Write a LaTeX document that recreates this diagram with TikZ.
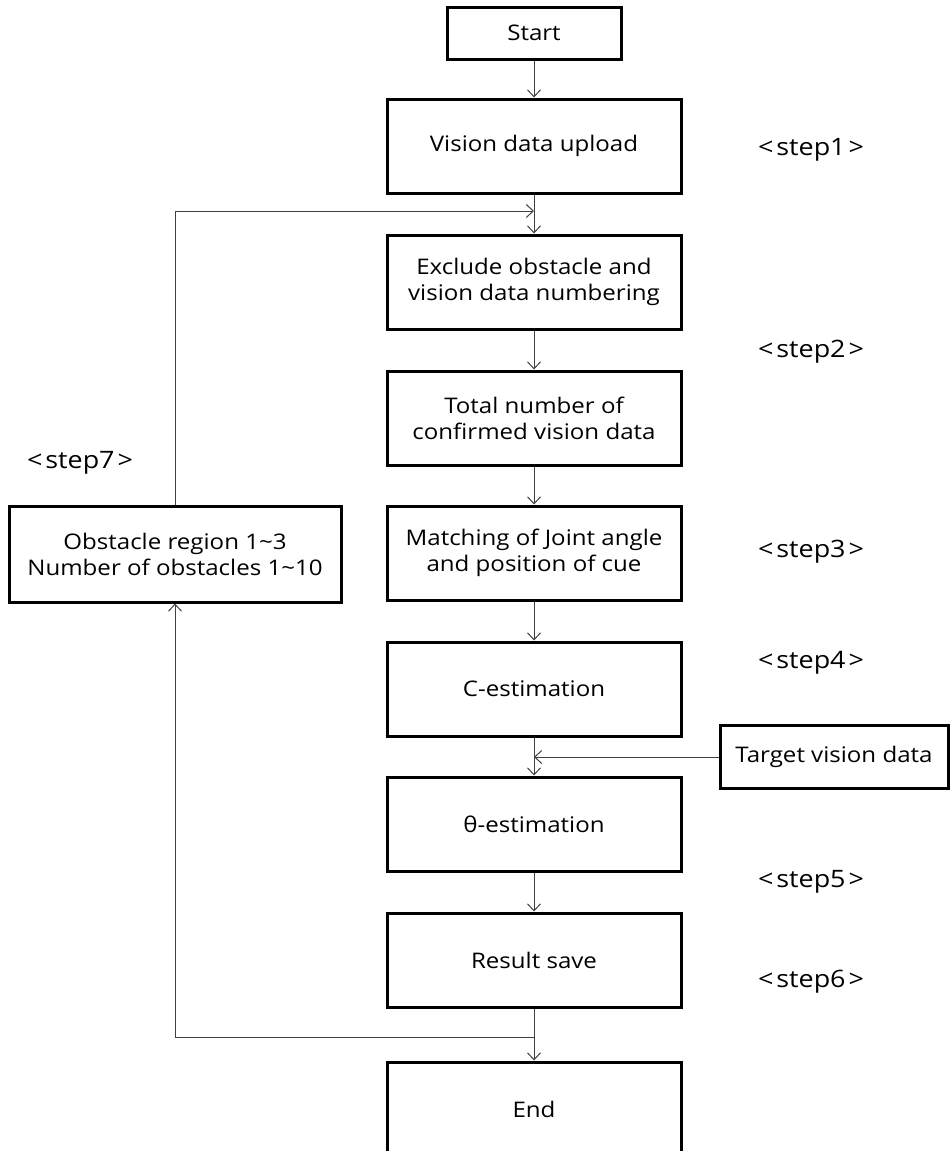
\documentclass[tikz,border=0pt]{standalone}
\usepackage{fontspec}
\setmainfont[FakeStretch=1.12]{Open Sans}
\usetikzlibrary{arrows.meta}
\begin{document}
\begin{tikzpicture}[x=1pt,y=-1pt,
  font=\fontsize{21.5}{26}\selectfont,
  box/.style={draw=black,line width=3pt,fill=white,align=center,inner sep=0pt},
  flowbox/.style={box,minimum width=294pt,minimum height=94pt},
  arr/.style={draw=black!75,line width=1pt,-{Straight Barb[length=7pt,width=13pt]}},
  lbl/.style={inner sep=0pt,font=\fontsize{24}{28}\selectfont}]
\useasboundingbox (0,0) rectangle (950,1151);

% main column of steps
\node[box,minimum width=174pt,minimum height=52pt] (start) at (534,33) {Start};
\node[flowbox] (vision) at (534,146) {Vision data upload};
\node[flowbox] (exclude) at (534,282) {Exclude obstacle and\\vision data numbering};
\node[flowbox] (total) at (534,418) {Total number of\\confirmed vision data};
\node[flowbox] (match) at (534,553) {Matching of Joint angle\\and position of cue};
\node[flowbox] (cest) at (534,689) {C-estimation};
\node[flowbox] (theta) at (534,824) {θ-estimation};
\node[flowbox] (result) at (534,960) {Result save};
\node[flowbox] (end) at (534,1109) {End};

% side boxes
\node[box,minimum width=332pt,minimum height=96pt] (obs) at (175,554)
  {Obstacle region 1\textasciitilde3\\Number of obstacles 1\textasciitilde10};
\node[box,minimum width=228pt,minimum height=63pt] (target) at (834,757) {Target vision data};

% step labels
\newcommand{\steplabel}[1]{<\hspace{3pt}step#1\hspace{3pt}>}
\node[lbl] (s1) at (811,150) {\steplabel{1}};
\node[lbl] (s2) at (811,352) {\steplabel{2}};
\node[lbl] (s3) at (811,552) {\steplabel{3}};
\node[lbl] (s4) at (811,663) {\steplabel{4}};
\node[lbl] (s5) at (811,882) {\steplabel{5}};
\node[lbl] (s6) at (811,982) {\steplabel{6}};
\node[lbl] (s7) at (80,463) {\steplabel{7}};

% junction points of the feedback loop
\coordinate (loopin) at (534,211);
\coordinate (split) at (534,1037);

% connectors
\draw[arr] (start) -- (vision);
\draw[arr] (vision) -- (exclude);
\draw[arr] (exclude) -- (total);
\draw[arr] (total) -- (match);
\draw[arr] (match) -- (cest);
\draw[arr] (cest) -- (theta);
\draw[arr] (theta) -- (result);
\draw[arr] (result) -- (end);
\draw[arr] (target.west) -- (target.west -| cest.south);
\draw[arr] (obs.north) |- (loopin);
\draw[arr] (split) -| (obs.south);
\end{tikzpicture}
\end{document}
